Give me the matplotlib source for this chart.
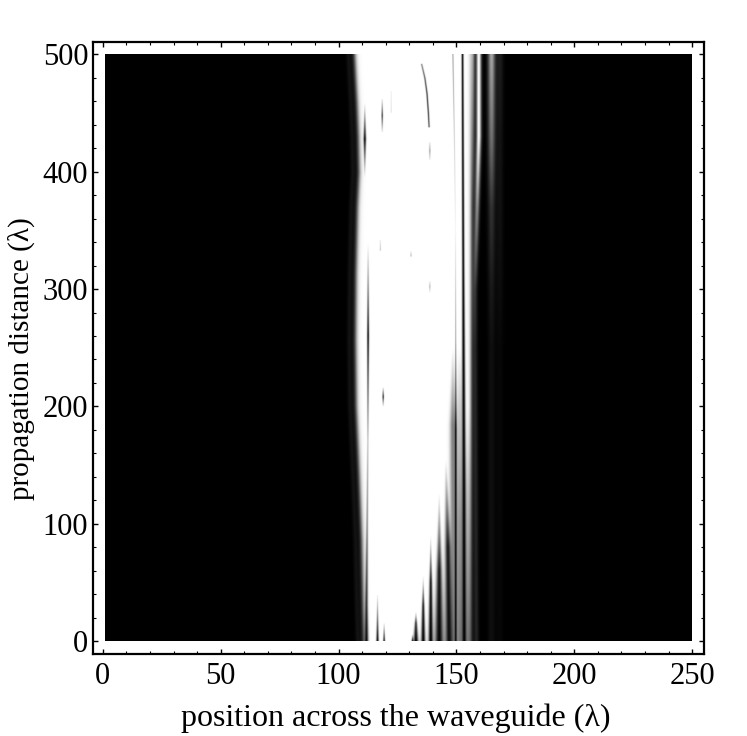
import numpy as np
import matplotlib
matplotlib.use("Agg")
import matplotlib.pyplot as plt
from matplotlib.ticker import MultipleLocator

plt.rcParams['font.family'] = ['Liberation Serif', 'DejaVu Serif']

# edges of the bright core
edge_y = [0, 29, 86, 143, 200, 256, 313, 370, 399, 430, 460, 500]
left_edge_x = [111.0, 110.6, 110.0, 108.9, 107.7, 107.4, 107.6, 108.2, 108.9, 108.6, 108.0, 107.0]
right_edge_x = 156.3

# dark streaks inside the core: x, y, width, depth along each streak
streak_x = [
    [111.2, 111.2, 111.2], [112.5, 112.6, 112.6], [111.9, 111.9, 112.2, 112.5],
    [116.6, 116.6], [118.6, 118.6, 118.6], [122.4, 122.4], [119.0, 119.0, 119.0],
    [117.8, 117.8], [130.8, 130.8], [119.4, 119.4], [131.5, 131.5],
    [138.5, 138.2, 137.6, 136.7, 135.3], [138.8, 138.8, 138.8], [138.8, 138.8, 138.8],
    [132.9, 132.9, 132.9], [136.0, 136.0, 136.0], [139.2, 139.2, 139.2], [142.8, 142.8, 142.8],
    [147.0, 146.5, 145.6], [148.6, 148.6, 148.6],
    [149.8, 149.8, 149.8, 149.8, 149.7, 149.3, 148.6], [153.4, 153.3, 153.0, 152.7],
    [151.5, 151.5, 151.5, 151.5], [155.5, 155.5, 155.5],
]
streak_y = [
    [395, 428, 459], [170, 260, 339], [0, 30, 100, 170],
    [0, 39], [434, 448, 462], [450, 469], [200, 208, 216],
    [333, 342], [328, 332], [0, 15], [0, 5],
    [438, 450, 467, 480, 492], [410, 418, 425], [297, 302, 307],
    [0, 15, 25], [0, 30, 56], [0, 50, 90], [0, 60, 126],
    [0, 80, 154], [0, 184, 250],
    [0, 180, 200, 256, 350, 420, 500], [0, 130, 320, 500],
    [0, 100, 200, 250], [0, 128, 200],
]
streak_w = [
    [0.2, 0.55, 0.2], [0.3, 0.42, 0.3], [0.8, 0.6, 0.4, 0.3],
    [0.5, 0.15], [0.25, 0.3, 0.2], [0.15, 0.15], [0.2, 0.3, 0.2],
    [0.2, 0.2], [0.2, 0.2], [0.4, 0.15], [0.4, 0.2],
    [0.3, 0.3, 0.3, 0.3, 0.3], [0.25, 0.3, 0.25], [0.25, 0.3, 0.25],
    [1.0, 0.5, 0.1], [0.9, 0.5, 0.1], [1.0, 0.6, 0.15], [1.9, 1.1, 0.2],
    [1.7, 1.2, 0.3], [1.3, 1.3, 0.4],
    [0.5, 0.45, 0.4, 0.22, 0.2, 0.2, 0.25], [0.9, 0.8, 0.5, 0.42],
    [2.0, 2.0, 1.5, 1.0], [2.5, 2.0, 1.0],
]
streak_d = [
    [0.0, 0.98, 0.0], [0.25, 0.98, 0.0], [0.95, 0.8, 0.45, 0.25],
    [1.0, 0.1], [0.1, 0.85, 0.1], [0.2, 0.1], [0.1, 0.95, 0.1],
    [0.3, 0.1], [0.4, 0.1], [0.9, 0.1], [0.9, 0.1],
    [0.7, 0.8, 0.8, 0.7, 0.5], [0.1, 0.4, 0.1], [0.05, 0.3, 0.05],
    [1.0, 0.8, 0.0], [1.0, 0.9, 0.0], [1.0, 0.9, 0.0], [0.98, 0.9, 0.0],
    [0.95, 0.9, 0.0], [0.35, 0.5, 0.0],
    [0.95, 0.95, 0.7, 0.4, 0.05, 0.2, 0.4], [1.0, 1.0, 1.0, 1.0],
    [0.5, 0.4, 0.2, 0.0], [0.5, 0.2, 0.0],
]

# bright stripes right of the core: x, amplitude along each stripe
stripe_y = [0, 100, 250, 300, 370, 430, 500]
stripe_x = [
    [157.0, 157.0, 157.0, 157.0, 157.0, 157.0, 157.0],
    [158.6, 158.4, 158.0, 158.0, 158.9, 159.6, 159.6],
    [165.0, 165.0, 165.0, 165.0, 165.0, 165.0, 165.0],
    [168.5, 168.5, 168.5, 168.5, 168.5, 168.5, 168.5],
]
stripe_amp = [
    [0.0, 0.0, 0.0, 0.05, 0.1, 0.3, 0.5],
    [0.14, 0.14, 0.14, 0.2, 0.55, 1.0, 1.0],
    [0.06, 0.06, 0.06, 0.1, 0.2, 0.45, 0.65],
    [0.03, 0.03, 0.03, 0.05, 0.07, 0.08, 0.12],
]
stripe_w = [0.9, 1.0, 1.5, 1.5]

x_range = [1.0, 250.0]
y_range = [0.0, 500.0]
x_ticks = [0, 50, 100, 150, 200, 250]
y_ticks = [0, 100, 200, 300, 400, 500]

x = np.linspace(x_range[0], x_range[1], 1200)
y = np.linspace(y_range[0], y_range[1], 600)
X, Y = np.meshgrid(x, y)

left = np.interp(y, edge_y, left_edge_x)[:, None]
core = 1 / (1 + np.exp(-(X - left) / 0.55)) * (1 / (1 + np.exp((X - right_edge_x) / 0.4)))
core = core + 0.07 * np.exp(-((X - left + 2.8) / 1.0) ** 2)

for sx, sy, sw, sd in zip(streak_x, streak_y, streak_w, streak_d):
    cx = np.interp(y, sy, sx)[:, None]
    cw = np.interp(y, sy, sw)[:, None]
    cd = np.interp(y, sy, sd, left=0, right=0)[:, None]
    core = core * (1 - cd * np.exp(-((X - cx) / cw) ** 2))

for sx, sa, sw in zip(stripe_x, stripe_amp, stripe_w):
    cx = np.interp(y, stripe_y, sx)[:, None]
    ca = np.interp(y, stripe_y, sa)[:, None]
    core = core + ca * np.exp(-((X - cx) / sw) ** 2)

fig = plt.figure(figsize=(7.47, 7.36), dpi=100)
ax = fig.add_axes([92.5 / 747, 1 - 654 / 736, (704 - 92.5) / 747, (654 - 42) / 736])

ax.imshow(np.clip(core, 0, 1), cmap="gray", vmin=0, vmax=1, origin="lower", aspect="auto",
          extent=[x_range[0], x_range[1], y_range[0], y_range[1]], interpolation="bilinear")

ax.set_xlim(-4.4, 255.0)
ax.set_ylim(-11.0, 510.5)
ax.set_xticks(x_ticks)
ax.set_yticks(y_ticks)
ax.xaxis.set_minor_locator(MultipleLocator(10))
ax.yaxis.set_minor_locator(MultipleLocator(20))
ax.tick_params(which="major", direction="in", length=3.5, width=1, top=True, right=True, labelsize=22, pad=3)
ax.tick_params(axis="x", which="major", pad=6)
ax.tick_params(which="minor", direction="in", length=2, width=0.8, top=True, right=True)
for spine in ax.spines.values():
    spine.set_linewidth(1.6)

fig.text(396 / 747, 1 - 718 / 736, "position across the waveguide (λ)", fontsize=23, ha="center", va="center")
fig.text(21 / 747, 1 - 359 / 736, "propagation distance (λ)", fontsize=21, ha="center", va="center", rotation=90)

fig.savefig("out.png", dpi=100)
